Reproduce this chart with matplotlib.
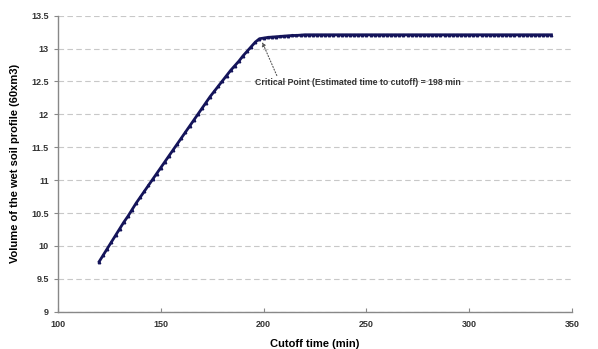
import numpy as np
import matplotlib
matplotlib.use("Agg")
import matplotlib.pyplot as plt

# cutoff time (min), every 2 min
times = np.arange(120, 342, 2)

# volume of the wet soil profile
rising = [9.76, 9.86, 9.96, 10.06, 10.16, 10.26, 10.36, 10.45, 10.55, 10.65,
          10.74, 10.83, 10.92, 11.01, 11.10, 11.19, 11.28, 11.37, 11.46, 11.55,
          11.64, 11.73, 11.82, 11.91, 12.00, 12.09, 12.18, 12.27, 12.35, 12.43,
          12.51, 12.59, 12.67, 12.74, 12.81, 12.89, 12.96, 13.03, 13.10]
knee = [13.15, 13.16, 13.17, 13.175, 13.18, 13.185, 13.19, 13.195, 13.20,
        13.20, 13.205, 13.21]
plateau = [13.21, 13.21, 13.21, 13.21, 13.21, 13.21, 13.21, 13.21, 13.21, 13.21,
           13.21, 13.21, 13.21, 13.21, 13.21, 13.21, 13.21, 13.21, 13.21, 13.21,
           13.21, 13.21, 13.21, 13.21, 13.21, 13.21, 13.21, 13.21, 13.21, 13.21,
           13.21, 13.21, 13.21, 13.21, 13.21, 13.21, 13.21, 13.21, 13.21, 13.21,
           13.21, 13.21, 13.21, 13.21, 13.21, 13.21, 13.21, 13.21, 13.21, 13.21,
           13.21, 13.21, 13.21, 13.21, 13.21, 13.21, 13.21, 13.21, 13.21, 13.21]
volume = rising + knee + plateau

x_ticks = [100, 150, 200, 250, 300, 350]
y_ticks = [9, 9.5, 10, 10.5, 11, 11.5, 12, 12.5, 13, 13.5]

critical_label = "Critical Point (Estimated time to cutoff) = 198 min"

plt.rcParams['font.family'] = ['Liberation Sans', 'DejaVu Sans']

fig = plt.figure(figsize=(5.98, 3.49), dpi=100)
ax = fig.add_axes([0.097, 0.107, 0.8595, 0.848])

ax.plot(times[:len(volume)], volume, color='#14145a', linewidth=2.0,
        marker='^', markersize=1.8, markerfacecolor='#14145a',
        markeredgecolor='#14145a', zorder=3)

ax.set_xlim(100, 350)
ax.set_ylim(9, 13.5)
ax.set_xticks(x_ticks)
ax.set_yticks(y_ticks)
ax.set_yticklabels([f"{v:g}" for v in y_ticks])

ax.yaxis.grid(True, linestyle=(0, (5, 3)), color='#c8c8c8', linewidth=0.8)
ax.set_axisbelow(True)

for side in ['top', 'right']:
    ax.spines[side].set_visible(False)
for side in ['left', 'bottom']:
    ax.spines[side].set_color('#888888')
    ax.spines[side].set_linewidth(1.0)

ax.tick_params(axis='x', direction='in', length=3, color='#888888',
               labelsize=6.5, labelcolor='#333333', pad=6)
ax.tick_params(axis='y', direction='out', length=3, color='#888888',
               labelsize=6.5, labelcolor='#333333')
for lbl in ax.get_xticklabels() + ax.get_yticklabels():
    lbl.set_fontweight('bold')

ax.set_xlabel("Cutoff time (min)", fontsize=8, fontweight='bold', labelpad=7)
ax.set_ylabel("Volume of the wet soil profile (60xm3)", fontsize=8,
              fontweight='bold', labelpad=8)

ax.annotate(critical_label, xy=(199.3, 13.10), xytext=(196, 12.48),
            fontsize=6.3, fontweight='bold', color='#333333', va='center',
            arrowprops=dict(arrowstyle='-|>', linestyle=':', color='#555555',
                            linewidth=0.8, mutation_scale=6,
                            shrinkA=0, shrinkB=0,
                            relpos=(0.11, 1.0)))

fig.savefig("out.png", dpi=100, facecolor='white')
